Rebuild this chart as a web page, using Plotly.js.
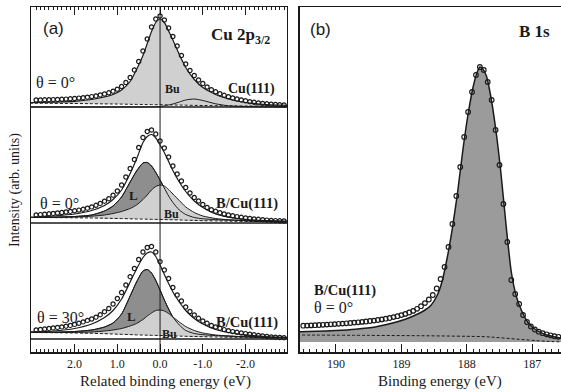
<!DOCTYPE html>
<html>
<head>
<meta charset="utf-8">
<script src="https://cdn.plot.ly/plotly-3.0.1.min.js"></script>
<style>
  html, body { margin: 0; padding: 0; background: #fff; }
  #chart { width: 561px; height: 392px; }
</style>
</head>
<body>
<div id="chart"></div>
<script>
// ---------- Panel (a): Cu 2p3/2, related binding energy (eV) ----------
// energy grid of the fitted curves
const E_FIT = [3.05, 2.5, 2.0, 1.6, 1.3, 1.1, 0.9, 0.7, 0.55, 0.4, 0.3, 0.2, 0.1, 0.0,
               -0.1, -0.2, -0.3, -0.45, -0.6, -0.8, -1.0, -1.3, -1.6, -2.0, -2.5, -3.0];

// Cu(111), theta = 0
const CU_BG   = [3.8, 3.6, 3.5, 3.3, 3.1, 3.0, 2.9, 2.7, 2.6, 2.5, 2.4, 2.4, 2.3, 2.3,
                 2.2, 2.1, 2.0, 1.9, 1.8, 1.6, 1.5, 1.3, 1.2, 1.0, 0.9, 0.8];
const CU_FIT  = [4.3, 4.8, 5.6, 7.5, 10, 12.5, 17, 25.5, 37.5, 51.5, 63.5, 75.5, 84.5, 88,
                 84.5, 76, 67, 52.5, 39.5, 27.5, 19.5, 12.5, 8, 4.5, 2.4, 1.5];
const CU_SAT  = [0, 0, 0, 0, 0, 0, 0, 0, 0, 0, 0.1, 0.1, 0.2, 0.6,
                 1.2, 2.0, 3.0, 5.0, 7.0, 8.0, 6.5, 3.2, 1.2, 0.4, 0.1, 0];

// B/Cu(111), theta = 0
const B0_BG   = [5.5, 5.4, 5.2, 5.0, 4.8, 4.6, 4.4, 4.2, 4.0, 3.9, 3.8, 3.7, 3.6, 3.5,
                 3.4, 3.3, 3.2, 3.0, 2.8, 2.6, 2.3, 2.1, 1.9, 1.6, 1.4, 1.2];
const B0_L    = [5.6, 5.8, 6.5, 8, 12, 17, 26, 41, 52, 60, 60.5, 57, 50.5, 43,
                 35, 27, 20.5, 13, 8.5, 5.5, 4.2, 3.4, 2.9, 2.4, 1.9, 1.6];
const B0_BU   = [5.6, 5.7, 6.0, 6.8, 8.0, 9.5, 11.5, 14.5, 18, 23.5, 28, 33, 36.5, 38,
                 37, 33.5, 29, 22.5, 16, 10.5, 7, 4.5, 3.2, 2.3, 1.7, 1.4];
const B0_FIT  = [5.5, 7, 9, 12.5, 17.5, 23.5, 33, 49.5, 64, 80.5, 86.5, 88.5, 85, 78,
                 70.5, 61.5, 52.5, 41, 31.5, 22, 15.5, 9, 5.8, 3.6, 2.3, 1.7];

// B/Cu(111), theta = 30
const B30_BG  = [6.5, 6.3, 6.0, 5.7, 5.3, 5.0, 4.7, 4.4, 4.1, 3.9, 3.8, 3.7, 3.6, 3.5,
                 3.4, 3.3, 3.1, 2.9, 2.7, 2.5, 2.3, 2.0, 1.8, 1.6, 1.4, 1.2];
const B30_L   = [6.6, 6.8, 7.5, 9, 12, 16, 25, 43, 57, 68, 69.5, 66, 58.5, 49,
                 39, 30, 22, 14, 8.5, 5.5, 4.3, 3.4, 2.8, 2.2, 1.7, 1.4];
const B30_BU  = [6.6, 6.6, 6.6, 7, 8, 9, 10.5, 13, 15.5, 19.5, 23, 26, 28.5, 29,
                 28, 25.5, 22, 17, 12.5, 8.5, 6, 4, 3, 2.3, 1.8, 1.5];
const B30_FIT = [7, 8, 10.5, 15, 21.5, 28.5, 40, 57, 70, 81.5, 86, 87, 82.5, 74,
                 64.5, 55.5, 47, 37, 28.5, 20.5, 15, 9.5, 6.5, 4.2, 2.2, 1.3];

// measured points
const E_PTS = [2.9, 2.8, 2.7, 2.6, 2.5, 2.4, 2.3, 2.2, 2.1, 2.0, 1.9, 1.8, 1.7, 1.6, 1.5,
               1.4, 1.3, 1.2, 1.1, 1.0, 0.9, 0.8, 0.7, 0.6, 0.5, 0.4, 0.3, 0.2, 0.1, 0.0,
               -0.1, -0.2, -0.3, -0.4, -0.5, -0.6, -0.7, -0.8, -0.9, -1.0, -1.1, -1.2, -1.3, -1.4, -1.5,
               -1.6, -1.7, -1.8, -1.9, -2.0, -2.1, -2.2, -2.3, -2.4, -2.5, -2.6, -2.7, -2.8, -2.9];
const CU_PTS  = [7.0, 7.1, 7.2, 7.3, 7.4, 7.5, 7.7, 7.9, 8.2, 8.5, 8.9, 9.3, 9.8, 10.4, 11.1,
                 12.0, 13.0, 14.2, 15.8, 17.8, 20.5, 24.5, 29.5, 37, 45.5, 56, 68, 80, 88, 91,
                 87, 79, 70.5, 61, 51.5, 43, 36.5, 31.5, 27, 23.5, 20, 17.3, 15.2, 13.3, 11.7,
                 10.3, 9.1, 8.1, 7.1, 6.2, 5.3, 4.7, 4.1, 3.6, 3.2, 2.8, 2.5, 2.2, 2.0];
const B0_PTS  = [8.0, 8.4, 8.8, 9.2, 9.6, 10.0, 10.5, 11.0, 11.6, 12.2, 12.9, 13.7, 14.8, 16.1, 17.7,
                 19.6, 21.8, 24.3, 27.8, 32, 38, 46, 54.5, 63.5, 75.5, 85.5, 91.5, 93, 89, 82,
                 75, 66, 57, 49, 42, 35.5, 30, 25.5, 22, 18.5, 15.5, 13.3, 11.7, 10.3, 9.0,
                 8.0, 7.2, 6.4, 5.7, 5.1, 4.6, 4.1, 3.7, 3.3, 2.9, 2.6, 2.4, 2.2, 2.0];
const B30_PTS = [9.1, 9.6, 10.1, 10.6, 11.1, 11.6, 12.1, 12.8, 13.6, 14.6, 15.7, 17.1, 18.6, 20.0, 21.8,
                 24.3, 27.3, 30.5, 35, 40.5, 46.5, 54, 62.3, 70.5, 79.5, 87, 91.5, 92.5, 87, 77.3,
                 69, 60.5, 51.5, 44, 38, 32, 27.5, 24, 20.7, 18, 15.7, 13.5, 12, 10.7, 9.4,
                 8.3, 7.4, 6.7, 6.0, 5.4, 4.8, 4.2, 3.6, 3.0, 2.5, 2.1, 1.8, 1.5, 1.3];

const A_TICKS = [2, 1, 0, -1, -2];
const A_TICK_TEXT = ['2.0', '1.0', '0.0', '-1.0', '-2.0'];
const A_HALF_TICKS = [2.5, 1.5, 0.5, -0.5, -1.5, -2.5];

// ---------- Panel (b): B 1s, binding energy (eV) ----------
const B_E_PTS = [190.50, 190.44, 190.38, 190.32, 190.26, 190.20, 190.14, 190.08, 190.02, 189.96,
                 189.90, 189.84, 189.78, 189.72, 189.66, 189.60, 189.54, 189.48, 189.42, 189.36,
                 189.30, 189.24, 189.18, 189.12, 189.06, 189.00, 188.94, 188.88, 188.82, 188.76,
                 188.70, 188.64, 188.58, 188.52, 188.46, 188.40, 188.34, 188.28, 188.22, 188.16,
                 188.10, 188.04, 187.98, 187.92, 187.86, 187.80, 187.74, 187.68, 187.62, 187.56,
                 187.50, 187.44, 187.38, 187.32, 187.26, 187.20, 187.14, 187.08, 187.02, 186.96,
                 186.90, 186.84, 186.78, 186.72, 186.66, 186.60];
const B_PTS   = [16.3, 16.4, 16.6, 16.8, 17.0, 17.2, 17.4, 17.7, 17.9, 18.2,
                 18.4, 18.7, 19.0, 19.4, 19.7, 20.1, 20.5, 21.0, 21.4, 22.0,
                 22.6, 23.3, 24.0, 24.9, 25.8, 26.9, 28.1, 29.5, 31.1, 33.2,
                 35.8, 38.9, 42.5, 47, 53.5, 63, 75, 95, 118, 146,
                 175, 205, 230, 250, 267, 275, 272, 260, 242, 212,
                 177, 138, 100, 62, 48, 38, 27, 20, 15.5, 12.5,
                 10.3, 8.8, 7.7, 6.7, 5.8, 5.2];
const B_E_FIT = [190.6, 190.3, 190.0, 189.7, 189.4, 189.15, 188.95, 188.8, 188.65, 188.55,
                 188.45, 188.38, 188.3, 188.22, 188.14, 188.06, 187.98, 187.9, 187.84, 187.8,
                 187.76, 187.7, 187.64, 187.56, 187.48, 187.4, 187.32, 187.24, 187.16, 187.06,
                 186.95, 186.8, 186.65, 186.5];
const B_FIT   = [10.1, 10.7, 11.5, 12.8, 15.0, 18.7, 22.5, 26.5, 31.5, 36.5,
                 47, 60, 84, 114, 150, 192, 228, 256, 270, 275,
                 273.5, 266, 248, 214, 170, 117, 70, 45, 31, 19,
                 12.5, 7.5, 5, 3.3];
const B_E_BG  = [190.6, 189.5, 188.75, 188.0, 187.72, 187.5, 187.2, 186.9, 186.7, 186.5];
const B_BG    = [7, 6.6, 6.3, 5.7, 5.3, 4.3, 2.7, 1.2, 0.4, 0.2];

const B_TICKS = [190, 189, 188, 187];
const B_HALF_TICKS = [190.5, 189.5, 188.5, 187.5];

// ---------- drawing ----------
const SERIF = 'Liberation Serif, Times New Roman, serif';
const SANS = 'Liberation Sans, Arial, sans-serif';
const INK = '#1a1a1a';
const LIGHT = '#d0d0d0';
const DARK = '#8e8e8e';
const PEAK_GRAY = '#9b9b9b';

// vertical stacking of the three Cu 2p spectra
const OFF_CU = 245, OFF_B0 = 129, OFF_B30 = 13, OFF_B = 10;
const A_RANGE = [3.02, -2.97];
const B_RANGE = [190.55, 186.56];

const up = (arr, off) => arr.map(v => v + off);
const traces = [];

function line(x, y, opts) {
  traces.push(Object.assign({
    type: 'scatter', mode: 'lines', x: x, y: y, hoverinfo: 'skip', showlegend: false,
    xaxis: 'x', yaxis: 'y',
    line: { color: INK, width: 1, shape: 'spline', smoothing: 0.6 }
  }, opts));
}
function helper(x, y, ax) {
  line(x, y, Object.assign({ line: { width: 0, shape: 'spline', smoothing: 0.6 } }, ax || {}));
}
function points(x, y, size, ax) {
  traces.push(Object.assign({
    type: 'scatter', mode: 'markers', x: x, y: y, hoverinfo: 'skip', showlegend: false,
    xaxis: 'x', yaxis: 'y',
    marker: { symbol: 'circle-open', size: size, color: INK, line: { width: 1.2, color: INK } }
  }, ax || {}));
}
function baseline(off) {
  line([E_FIT[0], E_FIT[E_FIT.length - 1]], [off, off],
       { line: { color: INK, width: 1.3 } });
}
function dashed(x, y, ax) {
  line(x, y, Object.assign({ line: { color: INK, width: 1, dash: '3px,2px', shape: 'spline' } }, ax || {}));
}

// Cu(111)
helper(E_FIT, up(CU_BG, OFF_CU));
line(E_FIT, up(CU_FIT, OFF_CU), { fill: 'tonexty', fillcolor: LIGHT,
     line: { color: INK, width: 1.2, shape: 'spline', smoothing: 0.6 } });
line(E_FIT, up(CU_SAT, OFF_CU));
dashed(E_FIT, up(CU_BG, OFF_CU));
baseline(OFF_CU);
points(E_PTS, up(CU_PTS, OFF_CU), 4.2);

// B/Cu(111) spectra with two components
function twoComponent(bg, L, bu, fit, pts, off) {
  helper(E_FIT, up(bg, off));
  line(E_FIT, up(L, off), { fill: 'tonexty', fillcolor: DARK });
  helper(E_FIT, up(bg, off));
  line(E_FIT, up(bu, off), { fill: 'tonexty', fillcolor: LIGHT });
  line(E_FIT, up(L, off));
  line(E_FIT, up(fit, off), { line: { color: INK, width: 1.2, shape: 'spline', smoothing: 0.6 } });
  dashed(E_FIT, up(bg, off));
  baseline(off);
  points(E_PTS, up(pts, off), 4.2);
}
twoComponent(B0_BG, B0_L, B0_BU, B0_FIT, B0_PTS, OFF_B0);
twoComponent(B30_BG, B30_L, B30_BU, B30_FIT, B30_PTS, OFF_B30);

// B 1s
const AX2 = { xaxis: 'x2', yaxis: 'y2' };
helper(B_E_FIT, B_E_FIT.map(() => OFF_B), AX2);
line(B_E_FIT, up(B_FIT, OFF_B), Object.assign({ fill: 'tonexty', fillcolor: PEAK_GRAY,
     line: { color: INK, width: 1.5, shape: 'spline', smoothing: 0.6 } }, AX2));
dashed(B_E_BG, up(B_BG, OFF_B), AX2);
points(B_E_PTS, up(B_PTS, OFF_B), 4.6, AX2);

const axisFont = { family: SERIF, size: 12, color: INK };
const frame = { showline: true, linecolor: INK, linewidth: 1.5, showgrid: false, zeroline: false };

const layout = {
  width: 561, height: 392,
  margin: { l: 31, r: 0, t: 7, b: 40 },
  paper_bgcolor: '#fff', plot_bgcolor: '#fff',
  showlegend: false,
  xaxis: Object.assign({}, frame, {
    domain: [0, 0.483], range: A_RANGE, anchor: 'y', mirror: 'allticks',
    tickmode: 'array', tickvals: A_TICKS, ticktext: A_TICK_TEXT,
    ticks: 'inside', ticklen: 8, tickwidth: 1, tickcolor: INK,
    ticklabelstandoff: 0, tickfont: axisFont,
    minor: { dtick: 0.1, tick0: 0, ticks: 'inside', ticklen: 3, tickwidth: 1, tickcolor: INK, showgrid: false }
  }),
  xaxis3: {
    overlaying: 'x', anchor: 'y', range: A_RANGE, showline: false, showgrid: false, zeroline: false,
    tickmode: 'array', tickvals: A_HALF_TICKS, ticks: 'inside', ticklen: 5, tickwidth: 1,
    tickcolor: INK, showticklabels: false, mirror: 'allticks'
  },
  yaxis: Object.assign({}, frame, {
    domain: [0, 1], range: [0, 345], anchor: 'x', mirror: true,
    ticks: '', showticklabels: false
  }),
  xaxis2: Object.assign({}, frame, {
    domain: [0.5075, 1], range: B_RANGE, anchor: 'y2', mirror: true,
    tickmode: 'array', tickvals: B_TICKS,
    ticks: 'inside', ticklen: 8, tickwidth: 1, tickcolor: INK,
    ticklabelstandoff: 0, tickfont: axisFont,
    minor: { dtick: 0.1, tick0: 0, ticks: 'inside', ticklen: 3, tickwidth: 1, tickcolor: INK, showgrid: false }
  }),
  xaxis4: {
    overlaying: 'x2', anchor: 'y2', range: B_RANGE, showline: false, showgrid: false, zeroline: false,
    tickmode: 'array', tickvals: B_HALF_TICKS, ticks: 'inside', ticklen: 5, tickwidth: 1,
    tickcolor: INK, showticklabels: false
  },
  yaxis2: Object.assign({}, frame, {
    domain: [0, 1], range: [0, 345], anchor: 'x2', mirror: false,
    ticks: '', showticklabels: false
  }),
  shapes: [
    { type: 'line', xref: 'x', yref: 'y domain', x0: 0, x1: 0, y0: 0, y1: 1,
      line: { color: INK, width: 1 }, layer: 'above' }
  ],
  annotations: []
};

function note(text, x, y, opts) {
  layout.annotations.push(Object.assign({
    text: text, x: x, y: y, xref: 'x', yref: 'y', showarrow: false,
    xanchor: 'center', yanchor: 'middle',
    font: { family: SERIF, size: 16, color: INK }
  }, opts));
}

// panel (a) labels
note('(a)', 2.78, 324, { xanchor: 'left', font: { family: SANS, size: 17, color: INK } });
note('<b>Cu 2p<sub>3/2</sub></b>', -2.62, 316, { xanchor: 'right', font: { family: SERIF, size: 17, color: INK } });
note('θ = 0°', 2.95, 270, { xanchor: 'left' });
note('<b>Bu</b>', -0.28, 263, { font: { family: SERIF, size: 12, color: INK } });
note('<b>Cu(111)</b>', -2.74, 263, { xanchor: 'right', font: { family: SERIF, size: 14, color: INK } });
note('θ = 0°', 2.85, 149, { xanchor: 'left' });
note('<b>L</b>', 0.61, 157, { font: { family: SERIF, size: 13, color: INK } });
note('<b>Bu</b>', -0.26, 138, { font: { family: SERIF, size: 12, color: INK } });
note('<b>B/Cu(111)</b>', -2.81, 149, { xanchor: 'right', font: { family: SERIF, size: 14.5, color: INK } });
note('θ = 30°', 2.92, 35, { xanchor: 'left' });
note('<b>L</b>', 0.68, 36, { font: { family: SERIF, size: 13, color: INK } });
note('<b>Bu</b>', -0.23, 18, { font: { family: SERIF, size: 12, color: INK } });
note('<b>B/Cu(111)</b>', -2.81, 30, { xanchor: 'right', font: { family: SERIF, size: 14.5, color: INK } });

// panel (b) labels
const b2 = { xref: 'x2', yref: 'y2' };
note('(b)', 190.43, 323, Object.assign({ xanchor: 'left', font: { family: SANS, size: 17, color: INK } }, b2));
note('<b>B 1s</b>', 186.69, 321, Object.assign({ xanchor: 'right', font: { family: SERIF, size: 17, color: INK } }, b2));
note('<b>B/Cu(111)</b>', 190.37, 62, Object.assign({ xanchor: 'left', font: { family: SERIF, size: 14.5, color: INK } }, b2));
note('θ = 0°', 190.37, 45, Object.assign({ xanchor: 'left' }, b2));

// axis titles
const paperNote = (text, x, y, opts) => layout.annotations.push(Object.assign({
  text: text, x: x, y: y, xref: 'paper', yref: 'paper', showarrow: false,
  xanchor: 'center', yanchor: 'middle', font: { family: SERIF, size: 15, color: INK }
}, opts));
paperNote('Related binding energy (eV)', 0.2547, -0.086);
paperNote('Binding energy (eV)', 0.7717, -0.086);
paperNote('Intensity (arb. units)', -0.030, 0.47, { textangle: -90, font: { family: SERIF, size: 14, color: INK } });

Plotly.newPlot('chart', traces, layout, { staticPlot: true, displayModeBar: false });
</script>
</body>
</html>
